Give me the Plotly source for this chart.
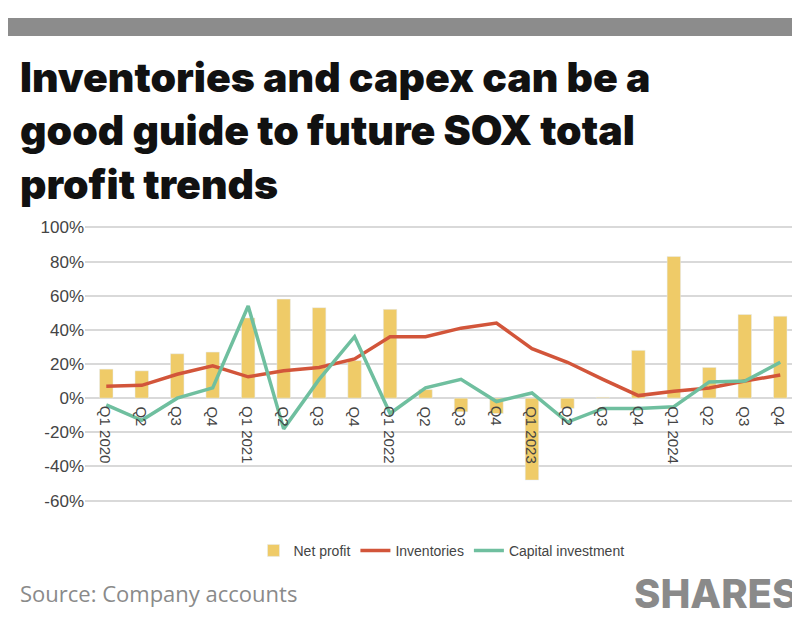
import plotly.graph_objects as go

quarters = ["Q1 2020","Q2","Q3","Q4","Q1 2021","Q2","Q3","Q4","Q1 2022","Q2","Q3","Q4",
            "Q1 2023","Q2","Q3","Q4","Q1 2024","Q2","Q3","Q4"]
net_profit = [17,16,26,27,47,58,53,22,52,5,-8,-9,-48,-6,0.5,28,83,18,49,48]
inventories = [7,7.5,14,19,12.5,16,18,23,36,36,41,44,29,21,11,1.5,4,6,10,13.5]
capex = [-4,-13,0,6,54,-18,11,36,-9,6,11,-2,3,-14,-6,-6,-5,9.5,10,21]
y_ticks = [100,80,60,40,20,0,-20,-40,-60]

x = list(range(len(quarters)))
fig = go.Figure()
fig.add_bar(x=x, y=net_profit, name="Net profit", marker_color="#EFCB68", width=0.38)
fig.add_scatter(x=x, y=inventories, name="Inventories", mode="lines",
                line=dict(color="#D2553A", width=3.5))
fig.add_scatter(x=x, y=capex, name="Capital investment", mode="lines",
                line=dict(color="#6FBF9F", width=3.5))

for xi, q in zip(x, quarters):
    fig.add_annotation(x=xi, y=0, text=q, showarrow=False, textangle=90,
                       xanchor="center", yanchor="top", yshift=-6,
                       font=dict(family="Liberation Sans", size=15, color="#444"))

ph = 280
def py(pix):
    return (617 - 121 - pix) / ph

fig.update_layout(
    width=800, height=617, margin=dict(l=77, r=10, t=216, b=121),
    paper_bgcolor="white", plot_bgcolor="white", bargap=0.6,
    xaxis=dict(range=[-0.6, 19.5], showticklabels=False, showgrid=False, zeroline=False),
    yaxis=dict(range=[-62, 102], tickvals=y_ticks, ticktext=[f"{v}%" for v in y_ticks],
               showgrid=True, gridcolor="#D9D9D9", gridwidth=1.5, zeroline=True,
               zerolinecolor="#D9D9D9", zerolinewidth=1.5,
               tickfont=dict(family="Liberation Sans", size=17, color="#444"), ticklen=0),
    legend=dict(orientation="h", x=0.5, xanchor="center", y=-0.11, yanchor="top",
                font=dict(family="Liberation Sans", size=14, color="#444")),
    showlegend=True,
    shapes=[dict(type="rect", xref="paper", yref="paper", x0=(0 - 77) / 713,
                 x1=(800 - 77) / 713, y0=py(28), y1=py(10),
                 fillcolor="#8C8C8C", line_width=0, layer="above")],
)

fig.add_annotation(xref="paper", yref="paper", x=(10 - 77) / 713, y=py(42),
                   xanchor="left", yanchor="top", align="left", showarrow=False,
                   text="Inventories and capex can be a<br>good guide to future SOX total<br>profit trends",
                   font=dict(family="Inter", size=41, color="#111", weight=900))
fig.add_annotation(xref="paper", yref="paper", x=(10 - 77) / 713, y=py(585),
                   xanchor="left", yanchor="middle", showarrow=False,
                   text="Source: Company accounts",
                   font=dict(family="Open Sans", size=22, color="#8A8A8A"))
fig.add_annotation(xref="paper", yref="paper", x=(792 - 77) / 713, y=py(585),
                   xanchor="right", yanchor="middle", showarrow=False,
                   text="SHARES",
                   font=dict(family="Inter", size=40, color="#8A8A8A", weight=800))

fig.write_html("out.html")
